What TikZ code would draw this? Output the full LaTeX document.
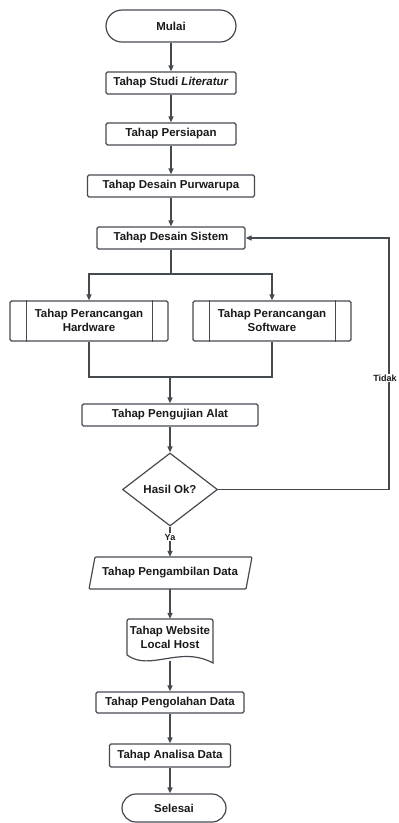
\documentclass[tikz,border=0pt]{standalone}
\usepackage{fontspec}
\setmainfont{Liberation Sans}
\usetikzlibrary{arrows.meta,shapes.geometric,calc}
\definecolor{ln}{HTML}{454950}
\definecolor{tx}{HTML}{1A1A1A}
\begin{document}
\begin{tikzpicture}[x=1pt,y=-1pt,
  every node/.style={font=\fontsize{11.5}{14}\selectfont\bfseries, text=tx},
  box/.style={draw=ln, line width=1.2pt, rounded corners=1.5pt, minimum height=22pt, inner sep=0pt, align=center},
  term/.style={draw=ln, line width=1.2pt, rounded corners=14pt, inner sep=0pt},
  arr/.style={draw=ln, line width=1.3pt, -{Triangle[length=6pt,width=5pt]}},
  lin/.style={draw=ln, line width=1.3pt},
  lab/.style={font=\fontsize{9}{10}\selectfont\bfseries, fill=white, inner sep=1pt}
]
\useasboundingbox (0,0) rectangle (399,823);
% nodes
\node[term, minimum width=130pt, minimum height=32pt, rounded corners=16pt] (mulai) at (171,26) {Mulai};
\node[box, minimum width=130pt] (studi) at (171,83) {Tahap Studi \textit{Literatur}};
\node[box, minimum width=130pt] (siap) at (171,134) {Tahap Persiapan};
\node[box, minimum width=167pt] (purwa) at (171,186) {Tahap Desain Purwarupa};
\node[box, minimum width=148pt] (sistem) at (171,238) {Tahap Desain Sistem};
\node[box, minimum width=158pt, minimum height=40pt] (hw) at (89,321) {};
\node[box, minimum width=158pt, minimum height=40pt] (sw) at (272,321) {};
\node[align=center, inner sep=0pt] (hwt) at (89,320) {Tahap Perancangan\\Hardware};
\node[align=center, inner sep=0pt] (swt) at (272,320) {Tahap Perancangan\\Software};
\draw[lin, line width=1.2pt] ([xshift=17pt]hw.north west) -- ([xshift=17pt]hw.south west);
\draw[lin, line width=1.2pt] ([xshift=-16pt]hw.north east) -- ([xshift=-16pt]hw.south east);
\draw[lin, line width=1.2pt] ([xshift=17pt]sw.north west) -- ([xshift=17pt]sw.south west);
\draw[lin, line width=1.2pt] ([xshift=-16pt]sw.north east) -- ([xshift=-16pt]sw.south east);
\node[box, minimum width=176pt] (uji) at (170,415) {Tahap Pengujian Alat};
\node[draw=ln, line width=1.2pt, diamond, aspect=1.3, minimum width=95pt, minimum height=73pt, inner sep=0pt] (dec) at (170,489.5) {Hasil Ok?};
% parallelogram
\node[minimum width=150pt, minimum height=32pt, inner sep=0pt] (ambil) at (170,573) {Tahap Pengambilan Data};
\draw[ln, line width=1.2pt, rounded corners=1pt] (95,557) -- (252,557) -- (246,589) -- (89,589) -- cycle;
% document
\node[minimum width=86pt, minimum height=36pt, inner sep=0pt, align=center] (doc) at (170,637) {Tahap Website\\Local Host};
\draw[ln, line width=1.2pt] (127,655) [rounded corners=2pt] -- (127,619) -- (213,619) [sharp corners] -- (213,663) .. controls (180,645) and (150,672) .. (127,655);
\coordinate (docbot) at (170,661);
\node[box, minimum width=148pt, minimum height=21pt] (olah) at (170,702.5) {Tahap Pengolahan Data};
\node[box, minimum width=121pt, minimum height=23pt] (anal) at (170,755.5) {Tahap Analisa Data};
\node[term, minimum width=104pt, minimum height=28pt] (selesai) at (174,808) {Selesai};
% connectors
\draw[arr] (mulai) -- (studi);
\draw[arr] (studi) -- (siap);
\draw[arr] (siap) -- (purwa);
\draw[arr] (purwa) -- (sistem);
\coordinate (split) at (171,274);
\draw[lin] (sistem) -- (split);
\draw[arr] (split) -| (hw.north);
\draw[arr] (split) -| (sw.north);
\coordinate (join) at (170,377);
\draw[lin] (hw.south) |- (join);
\draw[lin] (sw.south) |- (join);
\draw[arr] (join) -- (uji.north);
\draw[arr] (uji) -- (dec.north);
\coordinate (fb) at (389,489.5);
\draw[arr] (dec.east) -- (fb) |- (sistem.east);
\node[lab] (tidak) at (385,378) {Tidak};
\draw[arr] (dec.south) -- (dec.south |- ambil.north);
\node[lab] (ya) at (170,537) {Ya};
\draw[arr] (ambil.south) -- (ambil.south |- doc.north);
\draw[arr] (docbot) -- (olah.north);
\draw[arr] (olah.south) -- (olah.south |- anal.north);
\draw[arr] (anal.south) -- (anal.south |- selesai.north);
\end{tikzpicture}
\end{document}
